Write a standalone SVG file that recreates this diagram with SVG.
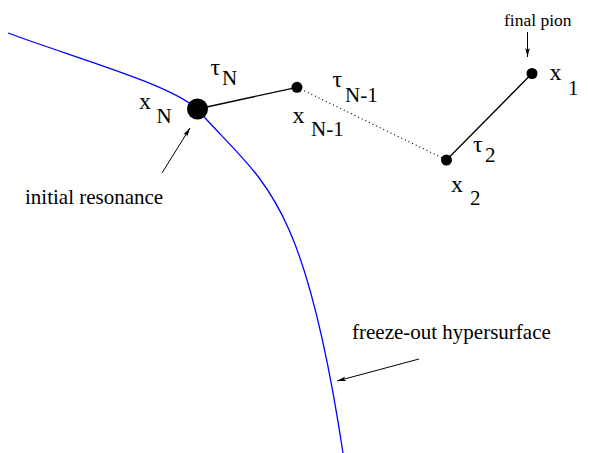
<svg xmlns="http://www.w3.org/2000/svg" width="589" height="453" viewBox="0 0 589 453">
<defs>
<style>
text{font-family:"Liberation Serif","DejaVu Serif",serif;fill:#000}
.v{font-size:24px}
.s{font-size:21px}
.cap{font-size:21px}
.small{font-size:17.5px}
.sol{stroke:#000;stroke-width:1.3;fill:none}
.dot{stroke:#000;stroke-width:1.2;stroke-dasharray:1 3;fill:none}
.arr{stroke:#000;stroke-width:1;fill:none;marker-end:url(#ah)}
</style>
<marker id="ah" markerWidth="10" markerHeight="6" refX="9" refY="3" orient="auto" markerUnits="userSpaceOnUse">
<path d="M0,0.7 L9,3 L0,5.3 L2,3 z" fill="#000"/>
</marker>
</defs>
<rect width="589" height="453" fill="#fff"/>
<g id="hypersurface">
<path d="M8,33 C75,58 170,84 197,109 C262,183 303,189 343,453" fill="none" stroke="#0000ff" stroke-width="1.3"/>
</g>
<g id="connectors">
<line class="sol" x1="197.5" y1="109" x2="297" y2="87.3"/>
<line class="dot" x1="297" y1="87.3" x2="446.5" y2="160"/>
<line class="sol" x1="446.5" y1="160" x2="532" y2="73.5"/>
<line class="arr" x1="162" y1="173" x2="190" y2="128"/>
<line class="arr" x1="419" y1="359" x2="337" y2="381"/>
<line class="arr" x1="527.5" y1="32" x2="527.5" y2="57"/>
</g>
<g id="xN">
<circle cx="197.5" cy="109" r="10.5" fill="#000"/>
<text class="v" x="139" y="108.5">x</text>
<text class="s" x="156.5" y="123">N</text>
<text class="v" x="210.5" y="75">τ</text>
<text class="s" x="222" y="85">N</text>
</g>
<g id="xN-1">
<circle cx="297" cy="87.3" r="5.5" fill="#000"/>
<text class="v" x="292.5" y="122.5">x</text>
<text class="s" x="311" y="136">N-1</text>
<text class="v" x="332.5" y="87">τ</text>
<text class="s" x="345" y="102">N-1</text>
</g>
<g id="x2">
<circle cx="446.5" cy="160" r="5.5" fill="#000"/>
<text class="v" x="451" y="192">x</text>
<text class="s" x="470" y="205">2</text>
<text class="v" x="473" y="152">τ</text>
<text class="s" x="485" y="162">2</text>
</g>
<g id="x1">
<circle cx="532" cy="73.5" r="5.5" fill="#000"/>
<text class="v" x="549.5" y="80">x</text>
<text class="s" x="568" y="95">1</text>
</g>
<g id="captions">
<text class="small" x="504" y="26">final pion</text>
<text class="cap" x="25" y="204">initial resonance</text>
<text class="cap" x="352" y="339">freeze-out hypersurface</text>
</g>
</svg>
